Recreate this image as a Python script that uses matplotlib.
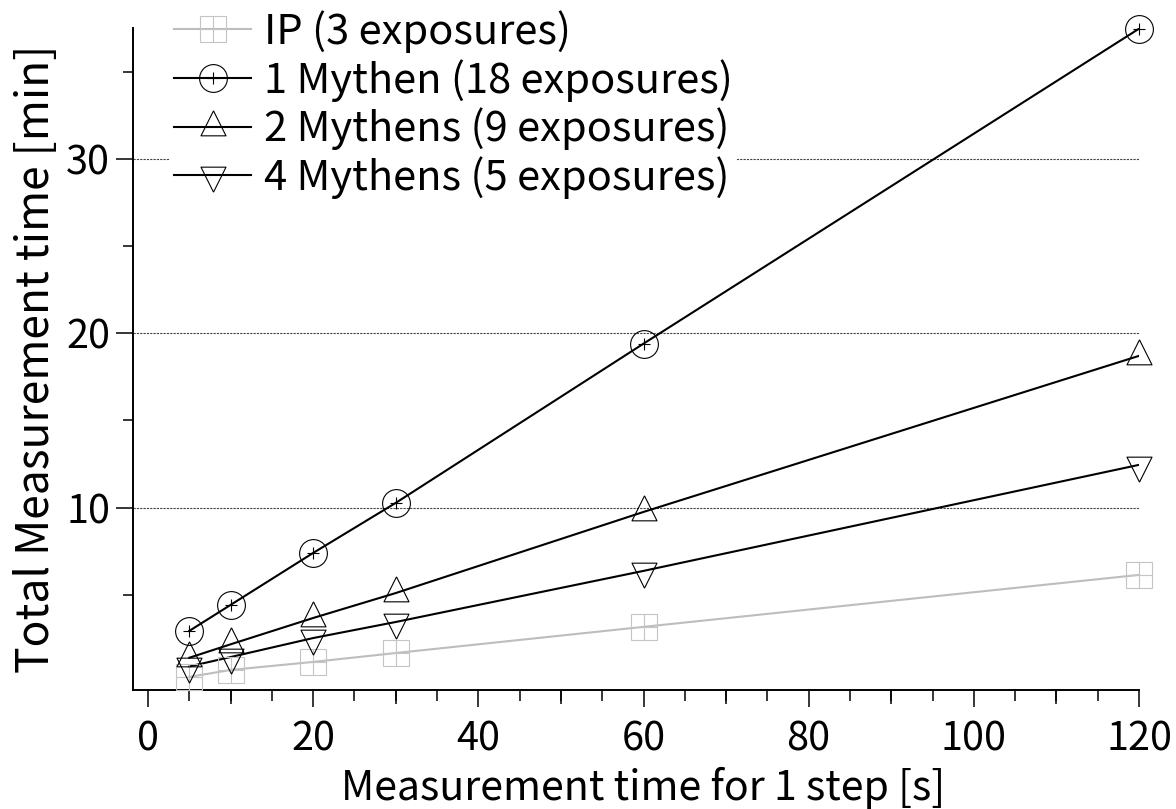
import numpy as np
import matplotlib
matplotlib.use("Agg")
import matplotlib.pyplot as plt
from matplotlib.ticker import MultipleLocator, FixedLocator, NullLocator
from matplotlib.lines import Line2D

plt.rcParams['font.family'] = ['Noto Sans CJK JP', 'DejaVu Sans']

# データ
step_time = [5, 10, 20, 30, 60, 120]
ip_3 = [0.29, 0.69, 1.15, 1.66, 3.16, 6.14]
mythen_1 = [2.93, 4.42, 7.4, 10.27, 19.4, 37.46]
mythen_2 = [1.39, 2.16, 3.67, 5.1, 9.75, 18.7]
mythen_4 = [0.89, 1.43, 2.52, 3.44, 6.37, 12.45]
labels = ['IP (3 exposures)', '1 Mythen (18 exposures)',
          '2 Mythens (9 exposures)', '4 Mythens (5 exposures)']

# 重心が原点にある三角形マーカー
tri_up = [(0, 2/3), (-0.5, -1/3), (0.5, -1/3), (0, 2/3)]
tri_dn = [(0, -2/3), (-0.5, 1/3), (0.5, 1/3), (0, -2/3)]

W, H = 1176, 809
fig = plt.figure(figsize=(W/100, H/100), dpi=100)
ax = fig.add_axes([133/W, 1-690/H, (1139-133)/W, (690-28)/H])

gray_line = '#bdbdbd'
gray_mk = '#c4c4c4'
lw = 1.5
mew = 0.8

ax.plot(step_time, ip_3, color=gray_line, lw=lw, zorder=3)
ax.plot(step_time, ip_3, ls='none', marker='s', ms=19, mfc='none', mec=gray_mk, mew=mew, clip_on=False, zorder=4)
ax.plot(step_time, ip_3, ls='none', marker='+', ms=19, mec=gray_mk, mew=mew, clip_on=False, zorder=4)

ax.plot(step_time, mythen_1, color='black', lw=lw, zorder=3)
ax.plot(step_time, mythen_1, ls='none', marker='o', ms=20, mfc='none', mec='black', mew=mew, clip_on=False, zorder=4)
ax.plot(step_time, mythen_1, ls='none', marker='+', ms=8, mec='black', mew=mew, clip_on=False, zorder=4)

ax.plot(step_time, mythen_2, color='black', lw=lw, zorder=3)
ax.plot(step_time, mythen_2, ls='none', marker=tri_up, ms=24, mfc='none', mec='black', mew=mew, clip_on=False, zorder=4)

ax.plot(step_time, mythen_4, color='black', lw=lw, zorder=3)
ax.plot(step_time, mythen_4, ls='none', marker=tri_dn, ms=24, mfc='none', mec='black', mew=mew, clip_on=False, zorder=4)

ax.set_xlim(-1.82, 120)
ax.set_ylim(-0.46, 37.5)

for s in ['top', 'right']:
    ax.spines[s].set_visible(False)
for s in ['left', 'bottom']:
    ax.spines[s].set_linewidth(1.4)

ax.xaxis.set_major_locator(MultipleLocator(20))
ax.xaxis.set_minor_locator(MultipleLocator(5))
ax.yaxis.set_major_locator(FixedLocator([10, 20, 30]))
ax.yaxis.set_minor_locator(FixedLocator([5, 15, 25, 35]))
ax.tick_params(axis='x', which='major', direction='out', length=12.5, width=1.1, labelsize=28.5, pad=9)
ax.tick_params(axis='x', which='minor', direction='out', length=7.7, width=1.1)
ax.tick_params(axis='y', which='major', direction='out', length=12.5, width=1.1, labelsize=28.5, pad=4)
ax.tick_params(axis='y', which='minor', direction='out', length=7.5, width=1.1)

# 10刻みの中くらいの目盛り
sec = ax.secondary_xaxis('bottom')
sec.xaxis.set_major_locator(FixedLocator([10, 30, 50, 70, 90, 110]))
sec.xaxis.set_minor_locator(NullLocator())
sec.tick_params(axis='x', direction='out', length=10, width=1.1, labelbottom=False)
sec.spines['bottom'].set_visible(False)

ax.grid(axis='y', which='major', color='#444444', lw=0.8, ls=(0, (2, 1)))

ax.set_xlabel('Measurement time for 1 step [s]', fontsize=29.6, labelpad=5)
ax.xaxis.label.set_x(0.507)
ax.set_ylabel('Total Measurement time [min]', fontsize=32, labelpad=5)

handles = [
    (Line2D([], [], color=gray_line, lw=lw),
     Line2D([], [], ls='none', marker='s', ms=19, mfc='none', mec=gray_mk, mew=mew),
     Line2D([], [], ls='none', marker='+', ms=19, mec=gray_mk, mew=mew)),
    (Line2D([], [], color='black', lw=lw),
     Line2D([], [], ls='none', marker='o', ms=20, mfc='none', mec='black', mew=mew),
     Line2D([], [], ls='none', marker='+', ms=8, mec='black', mew=mew)),
    (Line2D([], [], color='black', lw=lw),
     Line2D([], [], ls='none', marker=tri_up, ms=24, mfc='none', mec='black', mew=mew)),
    (Line2D([], [], color='black', lw=lw),
     Line2D([], [], ls='none', marker=tri_dn, ms=24, mfc='none', mec='black', mew=mew)),
]
leg = ax.legend(handles, labels, loc='upper left', bbox_to_anchor=(170/W, 1-6/H),
                bbox_transform=fig.transFigure, fontsize=30, frameon=True,
                handlelength=1.85, handletextpad=0.3, labelspacing=0.14,
                borderpad=0.1, borderaxespad=0, fancybox=False)
leg.get_frame().set_edgecolor('none')
leg.get_frame().set_facecolor('white')
leg.get_frame().set_alpha(1)
leg.set_zorder(5)

fig.savefig('out.png', dpi=100)
